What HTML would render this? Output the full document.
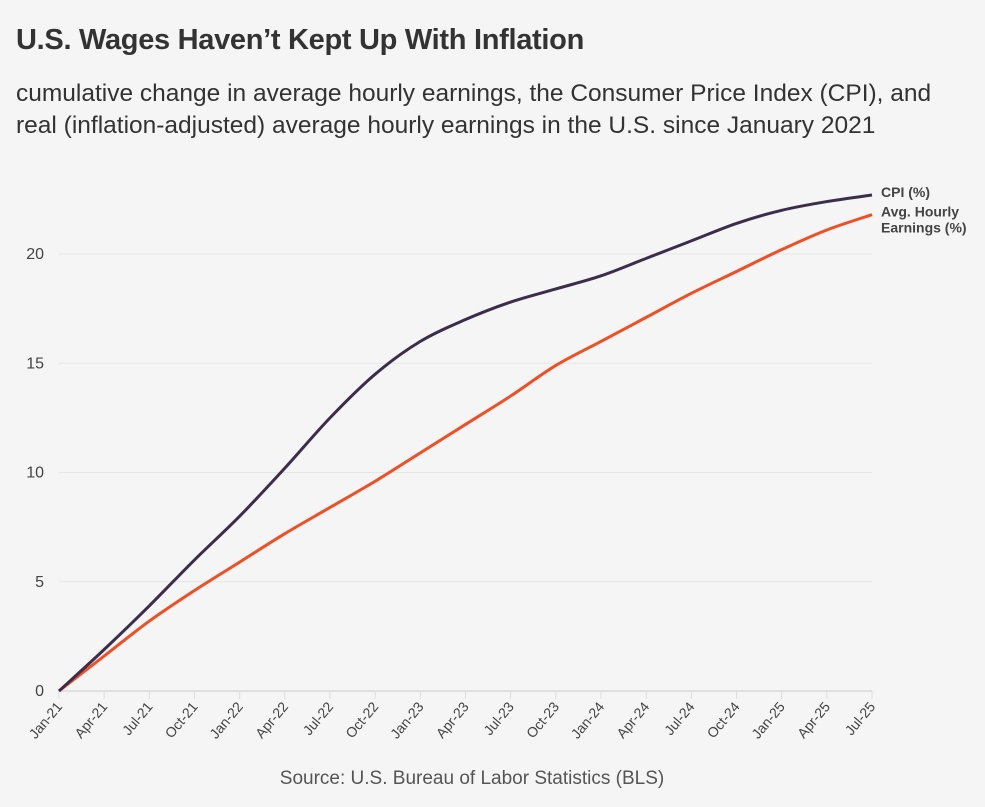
<!DOCTYPE html>
<html><head><meta charset="utf-8"><style>
body{margin:0;background:#f5f5f5;font-family:"Liberation Sans",sans-serif;}
#wrap{position:relative;width:985px;height:807px;overflow:hidden;background:#f5f5f5}
h1{position:absolute;left:16px;top:24px;margin:0;font-size:29px;font-weight:bold;color:#333;letter-spacing:-0.3px}
p.sub{position:absolute;left:16px;top:78px;margin:0;font-size:24.5px;line-height:32px;color:#333;white-space:nowrap}
</style></head><body>
<div id="wrap">
<h1>U.S. Wages Haven’t Kept Up With Inflation</h1>
<p class="sub">cumulative change in average hourly earnings, the Consumer Price Index (CPI), and<br>real (inflation-adjusted) average hourly earnings in the U.S. since January 2021</p>
<svg id="chart" width="985" height="807" style="position:absolute;left:0;top:0"></svg>
</div>
<script>
const categories=["Jan-21","Apr-21","Jul-21","Oct-21","Jan-22","Apr-22","Jul-22","Oct-22","Jan-23","Apr-23","Jul-23","Oct-23","Jan-24","Apr-24","Jul-24","Oct-24","Jan-25","Apr-25","Jul-25"];
const cpiValues=[0,1.9,3.9,6.0,8.0,10.2,12.5,14.5,16.0,17.0,17.8,18.4,19.0,19.8,20.6,21.4,22.0,22.4,22.7];
const wageValues=[0,1.6,3.2,4.6,5.9,7.2,8.4,9.6,10.9,12.2,13.5,14.9,16.0,17.1,18.2,19.2,20.2,21.1,21.8];
const yTicks=[0,5,10,15,20];
const svg=document.getElementById('chart');
const NS='http://www.w3.org/2000/svg';
const x0=59,x1=872,yBase=691,yPer=21.85;
const xs=i=>x0+(x1-x0)*i/(categories.length-1);
const ys=v=>yBase-v*yPer;
function mk(t,a){const e=document.createElementNS(NS,t);for(const k in a)e.setAttribute(k,a[k]);svg.appendChild(e);return e;}
yTicks.forEach(v=>{
 const g=mk('line',{x1:x0,x2:x1,y1:ys(v),y2:ys(v),stroke:'#e6e6e6','stroke-width':1});
 
 
 const t=mk('text',{x:44,y:ys(v)+5,'text-anchor':'end','font-size':16,fill:'#444','font-family':'Liberation Sans, sans-serif'});
 t.textContent=v;
 
 
});
const ax=mk('line',{x1:x0,x2:x1,y1:yBase,y2:yBase,stroke:'#e0e0e0','stroke-width':2});


categories.forEach((c,i)=>{
 const tk=mk('line',{x1:xs(i),x2:xs(i),y1:yBase,y2:yBase+8,stroke:'#ddd','stroke-width':1});
 
 
 const t=mk('text',{transform:`translate(${xs(i)+4},${yBase+16}) rotate(-50)`,'text-anchor':'end','font-size':14,fill:'#444','font-family':'Liberation Sans, sans-serif'});
 t.textContent=c;
 
 
});
function path(vals){
 const p=vals.map((v,i)=>[xs(i),ys(v)]);
 let d=`M${p[0][0]},${p[0][1]}`;
 for(let i=0;i<p.length-1;i++){
  const a=p[Math.max(i-1,0)],b=p[i],c=p[i+1],e=p[Math.min(i+2,p.length-1)];
  d+=` C${b[0]+(c[0]-a[0])/6},${b[1]+(c[1]-a[1])/6} ${c[0]-(e[0]-b[0])/6},${c[1]-(e[1]-b[1])/6} ${c[0]},${c[1]}`;
 }
 return d;
}
const w=mk('path',{d:path(wageValues),fill:'none',stroke:'#f04e23','stroke-width':3});


const c=mk('path',{d:path(cpiValues),fill:'none',stroke:'#3a2e4a','stroke-width':3});


function lab(lines,v,name){
 const y=ys(v);
 lines.forEach((s,k)=>{
  const t=mk('text',{x:881,y:y+2+k*16,'font-size':14,'font-weight':'bold',fill:'#444','font-family':'Liberation Sans, sans-serif'});
  t.textContent=s;
  
  
 });
}
lab(['CPI (%)'],cpiValues[cpiValues.length-1],'cpi-label');
lab(['Avg. Hourly','Earnings (%)'],wageValues[wageValues.length-1],'earnings-label');
const s=mk('text',{x:472,y:784,'text-anchor':'middle','font-size':19,fill:'#555','font-family':'Liberation Sans, sans-serif'});
s.textContent='Source: U.S. Bureau of Labor Statistics (BLS)';


</script>
</body></html>
